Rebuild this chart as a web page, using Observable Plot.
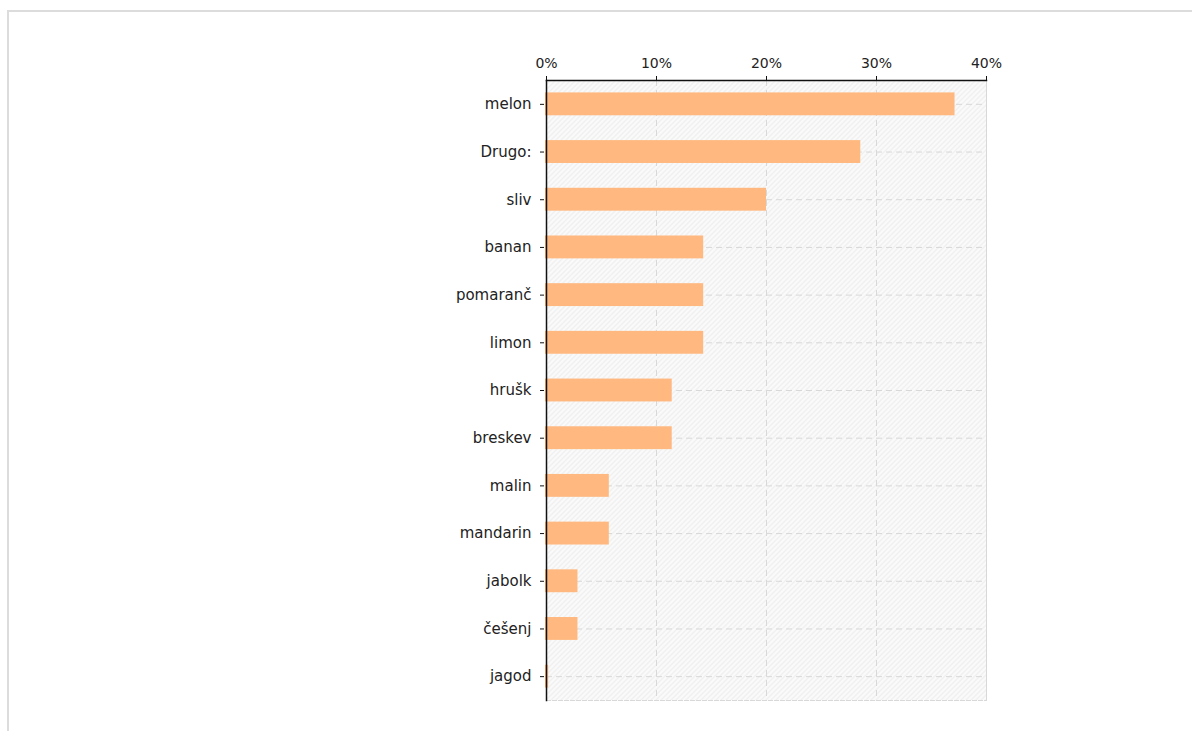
<!DOCTYPE html>
<html>
<head>
<meta charset="utf-8">
<script src="https://cdn.jsdelivr.net/npm/d3@7"></script>
<script src="https://cdn.jsdelivr.net/npm/@observablehq/plot@0.6"></script>
<style>
  html, body { margin: 0; padding: 0; background: #fff; }
  #frame { position: absolute; left: 7px; top: 10px; right: -10px; bottom: -10px;
           border-top: 2px solid #dcdcdc; border-left: 2px solid #dcdcdc; }
  #chart { position: absolute; left: 0; top: 0; }
</style>
</head>
<body>
<div id="frame"></div>
<div id="chart"></div>
<script>
const categories = ["melon", "Drugo:", "sliv", "banan", "pomaranč", "limon", "hrušk", "breskev", "malin", "mandarin", "jabolk", "češenj", "jagod"];
const values = [37.14, 28.57, 20, 14.29, 14.29, 14.29, 11.43, 11.43, 5.71, 5.71, 2.86, 2.86, 0.2];
const xTicks = [0, 10, 20, 30, 40];

const data = categories.map((c, i) => ({cat: c, value: values[i]}));

const defsMark = () => {
  const ns = "http://www.w3.org/2000/svg";
  const defs = document.createElementNS(ns, "defs");
  defs.innerHTML = `<pattern id="hatch" patternUnits="userSpaceOnUse" width="5" height="5">
      <rect width="5" height="5" fill="#fafafa"></rect>
      <path d="M-1,1 l2,-2 M0,5 l5,-5 M4,6 l2,-2" stroke="#e6e6e6" stroke-width="1"></path>
    </pattern>`;
  return defs;
};

const chart = Plot.plot({
  width: 1192,
  height: 731,
  marginTop: 80,
  marginBottom: 31,
  marginLeft: 546,
  marginRight: 206,
  style: {fontFamily: "'DejaVu Sans', sans-serif", fontSize: "13px", color: "#222", background: "transparent"},
  x: {domain: [0, 40], axis: null, label: null},
  y: {domain: categories, paddingInner: 0.52, paddingOuter: 0.26, round: false, axis: null, label: null},
  marks: [
    defsMark,
    Plot.frame({fill: "url(#hatch)", stroke: null}),
    Plot.gridX(xTicks, {stroke: "#d8d8d8", strokeOpacity: 1, strokeDasharray: "6,4"}),
    Plot.gridY(categories, {stroke: "#d8d8d8", strokeOpacity: 1, strokeDasharray: "6,4"}),
    Plot.frame({anchor: "bottom", stroke: "#d8d8d8", strokeOpacity: 1, strokeDasharray: "4,2"}),
    Plot.frame({anchor: "right", stroke: "#d8d8d8", strokeOpacity: 1}),
    Plot.barX(data, {x: "value", y: "cat", fill: "#ffb980", insetLeft: -1}),
    Plot.frame({anchor: "top", stroke: "#111", strokeWidth: 1.5}),
    Plot.frame({anchor: "left", stroke: "#111", strokeWidth: 1.5}),
    Plot.axisX({anchor: "top", ticks: xTicks, tickFormat: d => d + "%", tickSize: 5, tickPadding: 8, fontSize: 14, stroke: "#111", label: null}),
    Plot.axisY({anchor: "left", tickSize: 4, dx: -2, tickPadding: 9, fontSize: 15, stroke: "#111", label: null})
  ]
});
document.getElementById("chart").appendChild(chart);
</script>
</body>
</html>
